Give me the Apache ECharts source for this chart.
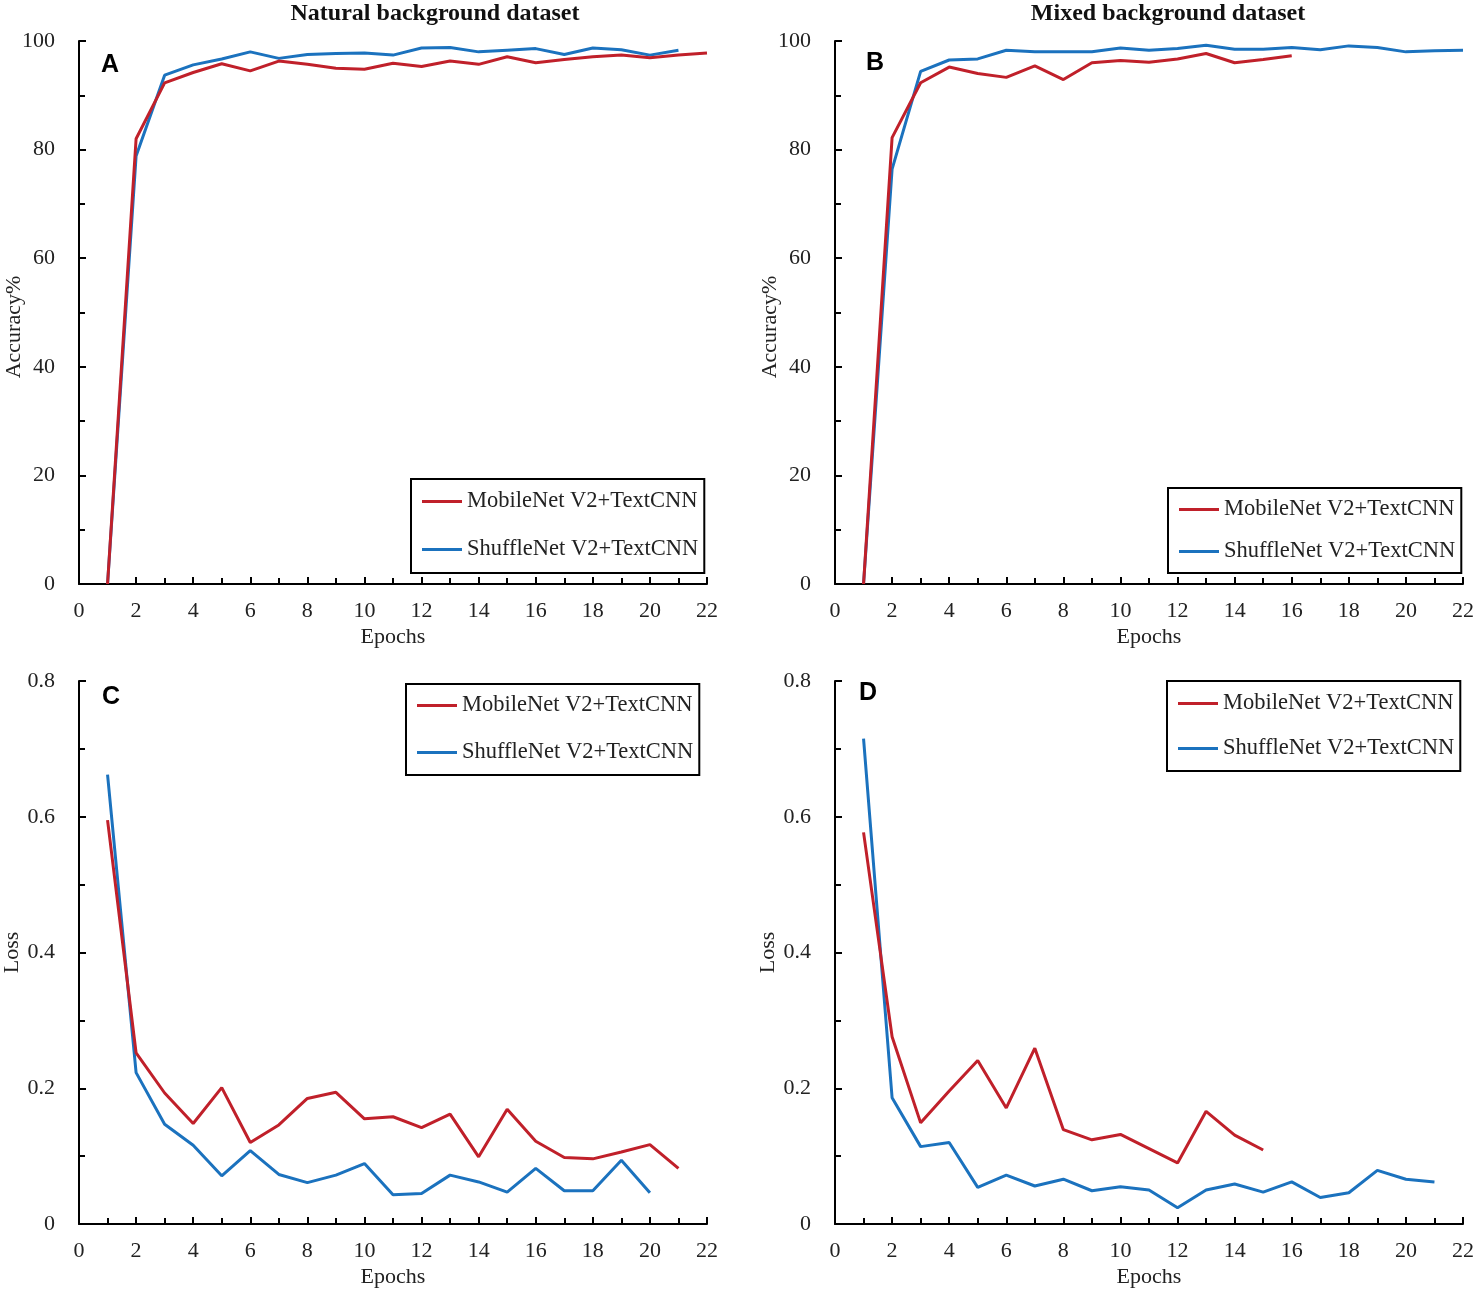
<!DOCTYPE html>
<html>
<head>
<meta charset="utf-8">
<script src="https://cdn.jsdelivr.net/npm/echarts@6/dist/echarts.min.js"></script>
<style>
  html, body { margin: 0; padding: 0; background: #fff; }
  #chart { width: 1476px; height: 1291px; }
</style>
</head>
<body>
<div id="chart"></div>
<script>
// values, epoch 1 first
var accNaturalMobile = [0, 82, 92.3, 94.2, 95.8, 94.5, 96.3, 95.7, 95.0, 94.8, 95.9, 95.3, 96.3, 95.7, 97.1, 96.0, 96.6, 97.1, 97.4, 96.9, 97.4, 97.8];
var accNaturalShuffle = [0, 78.8, 93.7, 95.6, 96.7, 98.0, 96.8, 97.5, 97.7, 97.8, 97.4, 98.7, 98.8, 98.0, 98.3, 98.6, 97.5, 98.7, 98.4, 97.4, 98.3];
var accMixedMobile = [0, 82.2, 92.3, 95.2, 94.0, 93.3, 95.4, 92.9, 96.0, 96.4, 96.1, 96.7, 97.7, 96.0, 96.6, 97.3];
var accMixedShuffle = [0, 76.4, 94.4, 96.5, 96.7, 98.3, 98.0, 98.0, 98.0, 98.7, 98.3, 98.6, 99.2, 98.5, 98.5, 98.8, 98.4, 99.1, 98.8, 98.0, 98.2, 98.3];
var lossNaturalMobile = [0.595, 0.252, 0.193, 0.148, 0.201, 0.120, 0.146, 0.185, 0.194, 0.155, 0.158, 0.142, 0.162, 0.099, 0.169, 0.122, 0.098, 0.096, 0.106, 0.117, 0.082];
var lossNaturalShuffle = [0.662, 0.223, 0.147, 0.116, 0.071, 0.108, 0.073, 0.061, 0.072, 0.089, 0.043, 0.045, 0.072, 0.062, 0.047, 0.082, 0.049, 0.049, 0.094, 0.046];
var lossMixedMobile = [0.577, 0.276, 0.149, 0.196, 0.241, 0.171, 0.259, 0.139, 0.124, 0.132, 0.111, 0.090, 0.166, 0.131, 0.109];
var lossMixedShuffle = [0.715, 0.186, 0.114, 0.120, 0.054, 0.072, 0.056, 0.066, 0.049, 0.055, 0.050, 0.024, 0.050, 0.059, 0.047, 0.062, 0.039, 0.046, 0.079, 0.066, 0.062];

var nameMobile = 'MobileNet V2+TextCNN';
var nameShuffle = 'ShuffleNet V2+TextCNN';
var panelTitles = ['Natural background dataset', 'Mixed background dataset'];
var panelLetters = ['A', 'B', 'C', 'D'];

var RED = '#c0202a';
var BLUE = '#1b72be';
var SERIF = '"Liberation Serif", "Times New Roman", serif';

function toPoints(arr) {
    var pts = [];
    for (var i = 0; i < arr.length; i++) {
        pts.push([i + 1, arr[i]]);
    }
    return pts;
}

var grids = [
    { left: 79, top: 41, width: 628, height: 543, outerBoundsMode: 'none' },
    { left: 835, top: 41, width: 628, height: 543, outerBoundsMode: 'none' },
    { left: 79, top: 681, width: 628, height: 543, outerBoundsMode: 'none' },
    { left: 835, top: 681, width: 628, height: 543, outerBoundsMode: 'none' }
];

var xAxes = [], yAxes = [];
for (var g = 0; g < 4; g++) {
    xAxes.push({
        type: 'value', gridIndex: g, min: 0, max: 22, interval: 2,
        name: 'Epochs', nameLocation: 'middle', nameGap: 42,
        nameTextStyle: { fontFamily: SERIF, fontSize: 22, color: '#222' },
        axisLine: { lineStyle: { color: '#000', width: 2 } },
        axisTick: { inside: true, length: 7, lineStyle: { color: '#000', width: 2 } },
        minorTick: { show: true, splitNumber: 2, length: 6, lineStyle: { color: '#000', width: 2 } },
        axisLabel: { fontFamily: SERIF, fontSize: 22, color: '#222', margin: 16 },
        splitLine: { show: false }
    });
    var isAcc = g < 2;
    yAxes.push({
        type: 'value', gridIndex: g, min: 0,
        max: isAcc ? 100 : 0.8, interval: isAcc ? 20 : 0.2,
        // accuracy names are placed as graphic text below (they sit a bit low in the original)
        name: isAcc ? '' : 'Loss', nameLocation: 'middle', nameGap: 56,
        nameTextStyle: { fontFamily: SERIF, fontSize: 22, color: '#222' },
        axisLine: { show: true, lineStyle: { color: '#000', width: 2 } },
        axisTick: { show: true, inside: true, length: 7, lineStyle: { color: '#000', width: 2 } },
        minorTick: { show: true, splitNumber: 2, length: 6, lineStyle: { color: '#000', width: 2 } },
        axisLabel: { fontFamily: SERIF, fontSize: 22, color: '#222', margin: 24 },
        splitLine: { show: false }
    });
}

var seriesData = [
    [accNaturalMobile, accNaturalShuffle],
    [accMixedMobile, accMixedShuffle],
    [lossNaturalMobile, lossNaturalShuffle],
    [lossMixedMobile, lossMixedShuffle]
];
var series = [];
for (var k = 0; k < 4; k++) {
    series.push({
        name: nameMobile, type: 'line', xAxisIndex: k, yAxisIndex: k,
        data: toPoints(seriesData[k][0]), symbol: 'none',
        lineStyle: { color: RED, width: 3 }, itemStyle: { color: RED }, z: 3
    });
    series.push({
        name: nameShuffle, type: 'line', xAxisIndex: k, yAxisIndex: k,
        data: toPoints(seriesData[k][1]), symbol: 'none',
        lineStyle: { color: BLUE, width: 3 }, itemStyle: { color: BLUE }, z: 2
    });
}

// legend boxes: [left, top, itemGap, padding]
var legendPos = [
    [411, 479, 25, [11, 6, 12, 11]],
    [1168, 488, 19, [10, 6, 10, 11]],
    [406, 684, 24, [10, 6, 11, 11]],
    [1167, 681, 22, [11, 6, 11, 11]]
];
var legends = legendPos.map(function (p) {
    return {
        data: [nameMobile, nameShuffle], orient: 'vertical',
        left: p[0], top: p[1], itemGap: p[2], padding: p[3],
        icon: 'rect', itemWidth: 40, itemHeight: 3,
        borderColor: '#000', borderWidth: 2, borderRadius: 0,
        textStyle: { fontFamily: SERIF, fontSize: 22.5, color: '#222' },
        selectedMode: false
    };
});

var letterPos = [[110, 53], [875, 51], [111, 685], [868, 681]];
var titles = [
    { text: panelTitles[0], left: 430, top: -3, textAlign: 'center',
      textStyle: { fontFamily: SERIF, fontSize: 24, fontWeight: 'bold', color: '#111' } },
    { text: panelTitles[1], left: 1163, top: -3, textAlign: 'center',
      textStyle: { fontFamily: SERIF, fontSize: 24, fontWeight: 'bold', color: '#111' } }
];
for (var t = 0; t < 4; t++) {
    titles.push({
        text: panelLetters[t], left: letterPos[t][0], top: letterPos[t][1], textAlign: 'center', padding: 0,
        textStyle: { fontFamily: '"Liberation Sans", Arial, sans-serif', fontSize: 25, fontWeight: 'bold', color: '#000' }
    });
}

var accNamePos = [[14, 327], [770, 327]];
var graphics = accNamePos.map(function (p) {
    return {
        type: 'text', x: p[0], y: p[1], rotation: Math.PI / 2,
        style: { text: 'Accuracy%', fill: '#222', font: '22px ' + SERIF, align: 'center', verticalAlign: 'middle' }
    };
});

var myChart = echarts.init(document.getElementById('chart'));
myChart.setOption({
    animation: false,
    backgroundColor: '#fff',
    title: titles,
    legend: legends,
    grid: grids,
    xAxis: xAxes,
    yAxis: yAxes,
    graphic: graphics,
    series: series
});
</script>
</body>
</html>
